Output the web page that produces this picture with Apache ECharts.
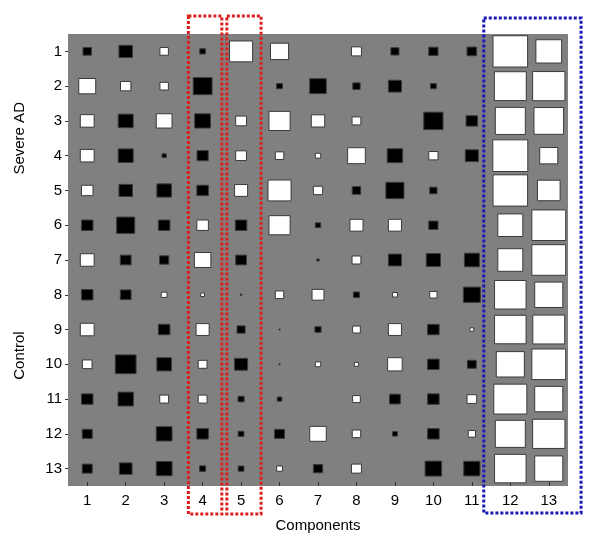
<!DOCTYPE html>
<html>
<head>
<meta charset="utf-8">
<script src="https://cdn.jsdelivr.net/npm/echarts@6/dist/echarts.min.js"></script>
<style>
html,body{margin:0;padding:0;background:#fff;}
#chart{width:600px;height:538px;}
</style>
</head>
<body>
<div id="chart"></div>
<script>
// Components (x) and subjects (y)
const components = ['1','2','3','4','5','6','7','8','9','10','11','12','13'];
const subjects = ['1','2','3','4','5','6','7','8','9','10','11','12','13'];
// Signed weights per subject (positive = white, negative = black); magnitude = relative square side
const subj1  = [-0.22,-0.35, 0.22,-0.15, 0.60, 0.47, 0.00, 0.26,-0.21,-0.24,-0.25, 0.90, 0.67];
const subj2  = [ 0.44, 0.27, 0.22,-0.49, 0.00,-0.15,-0.43,-0.19,-0.34,-0.15, 0.00, 0.83, 0.84];
const subj3  = [ 0.36,-0.39, 0.41,-0.41, 0.28, 0.55, 0.35, 0.23, 0.00,-0.50,-0.30, 0.78, 0.77];
const subj4  = [ 0.36,-0.39,-0.11,-0.29, 0.28, 0.22, 0.14, 0.46,-0.40, 0.24,-0.34, 0.91, 0.47];
const subj5  = [ 0.30,-0.35,-0.38,-0.30, 0.34, 0.60, 0.24,-0.22,-0.47,-0.19, 0.00, 0.90, 0.59];
const subj6  = [-0.30,-0.47,-0.30, 0.30,-0.30, 0.55,-0.14, 0.34, 0.34,-0.24, 0.00, 0.65, 0.88];
const subj7  = [ 0.36,-0.28,-0.24, 0.43,-0.28, 0.00,-0.06, 0.23,-0.34,-0.37,-0.39, 0.65, 0.88];
const subj8  = [-0.30,-0.28, 0.15, 0.10,-0.04, 0.22, 0.31,-0.16, 0.13, 0.19,-0.44, 0.82, 0.73];
const subj9  = [ 0.36, 0.00,-0.30, 0.34,-0.21,-0.03,-0.16, 0.20, 0.34,-0.30, 0.10, 0.82, 0.83];
const subj10 = [ 0.25,-0.54,-0.38, 0.23,-0.34,-0.03, 0.14, 0.11, 0.38,-0.30,-0.23, 0.73, 0.88];
const subj11 = [-0.30,-0.40, 0.23, 0.23,-0.16,-0.12, 0.00, 0.20,-0.28,-0.30, 0.25, 0.86, 0.73];
const subj12 = [-0.26, 0.00,-0.41,-0.30,-0.15,-0.26, 0.43, 0.22,-0.13,-0.30, 0.19, 0.78, 0.84];
const subj13 = [-0.26,-0.33,-0.41,-0.16,-0.15, 0.15,-0.24, 0.26, 0.00,-0.43,-0.42, 0.82, 0.73];
const allRows = [subj1,subj2,subj3,subj4,subj5,subj6,subj7,subj8,subj9,subj10,subj11,subj12,subj13];

const data = [];
allRows.forEach((row, r) => row.forEach((v, c) => { if (v !== 0) data.push([c, r, v]); }));

const FONT = 'Liberation Sans, Arial, sans-serif';
const chart = echarts.init(document.getElementById('chart'), null, {renderer: 'canvas'});

const option = {
  animation: false,
  grid: {left: 68, right: 32, top: 34, bottom: 51, show: true, backgroundColor: '#808080', borderWidth: 0},
  xAxis: {
    type: 'category', data: components, boundaryGap: true,
    axisLine: {show: false},
    axisTick: {show: true, inside: true, length: 4, alignWithLabel: true, lineStyle: {color: '#333', width: 1}},
    axisLabel: {color: '#000', fontSize: 15, fontFamily: FONT, margin: 7},
    splitLine: {show: false},
    name: 'Components', nameLocation: 'middle', nameGap: 32,
    nameTextStyle: {color: '#000', fontSize: 15, fontFamily: FONT}
  },
  yAxis: {
    type: 'category', data: subjects, inverse: true, boundaryGap: true,
    axisLine: {show: false},
    axisTick: {show: true, inside: false, length: 3, alignWithLabel: true, lineStyle: {color: '#333', width: 1}},
    axisLabel: {color: '#000', fontSize: 15, fontFamily: FONT, margin: 6},
    splitLine: {show: false}
  },
  series: [{
    type: 'custom',
    data: data,
    renderItem: function (params, api) {
      const v = api.value(2);
      const p = api.coord([api.value(0), api.value(1)]);
      const s = api.size([1, 1]);
      const w = Math.abs(v) * s[0];
      const h = Math.abs(v) * s[1];
      return {
        type: 'rect',
        shape: {x: p[0] - w / 2, y: p[1] - h / 2, width: w, height: h},
        style: {fill: v > 0 ? '#ffffff' : '#000000', stroke: '#3a3a3a', lineWidth: 1}
      };
    }
  }]
};
chart.setOption(option);

// Annotations computed from axis positions
function px(c){ return chart.convertToPixel({xAxisIndex: 0}, c); }
function py(r){ return chart.convertToPixel({yAxisIndex: 0}, r); }
const band = px(components[1]) - px(components[0]);
const rowBand = py(subjects[1]) - py(subjects[0]);
const c4 = px('4'), c5 = px('5'), c12 = px('12'), c13 = px('13');
const redStyle = {fill: null, stroke: '#dd1e1e', lineWidth: 3, lineDash: [3, 2]};
const blueStyle = {fill: null, stroke: '#1818b4', lineWidth: 3, lineDash: [3, 2]};
const yTopSevere = py('1'), yBottomSevere = py('6');
chart.setOption({
  graphic: [
    {type: 'rect', z: 100, shape: {x: c4 - 0.37 * band, y: 16, width: 0.87 * band, height: 498}, style: redStyle},
    {type: 'rect', z: 100, shape: {x: c5 - 0.37 * band, y: 16, width: 0.89 * band, height: 498}, style: redStyle},
    {type: 'rect', z: 100, shape: {x: c12 - 0.69 * band, y: 18, width: (c13 - c12) + 1.53 * band, height: 495}, style: blueStyle},
    {type: 'text', z: 100, x: 20, y: (py('3') + py('4')) / 2, rotation: Math.PI / 2,
     style: {text: 'Severe AD', fill: '#000', fontSize: 15, fontFamily: FONT, textAlign: 'center', textVerticalAlign: 'middle'}},
    {type: 'text', z: 100, x: 20, y: py('10') - 0.25 * rowBand, rotation: Math.PI / 2,
     style: {text: 'Control', fill: '#000', fontSize: 15, fontFamily: FONT, textAlign: 'center', textVerticalAlign: 'middle'}}
  ]
});
</script>
</body>
</html>
